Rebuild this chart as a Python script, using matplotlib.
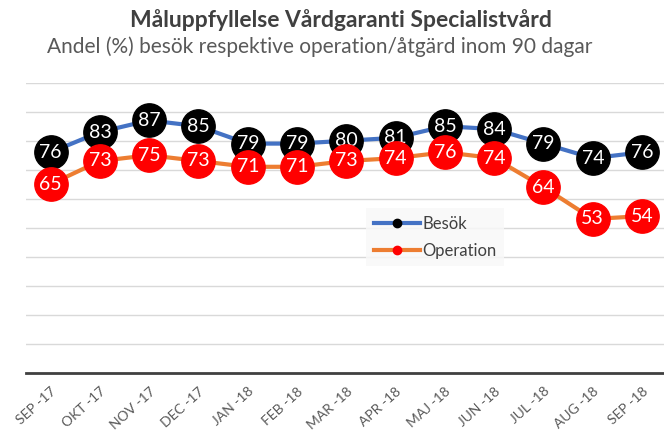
import matplotlib
matplotlib.use("Agg")
import matplotlib.pyplot as plt
from matplotlib.lines import Line2D

# ---- data ----
months = ["SEP -17", "OKT -17", "NOV -17", "DEC -17", "JAN -18", "FEB -18", "MAR -18",
          "APR -18", "MAJ -18", "JUN -18", "JUL -18", "AUG -18", "SEP -18"]
besok = [76, 83, 87, 85, 79, 79, 80, 81, 85, 84, 79, 74, 76]
operation = [65, 73, 75, 73, 71, 71, 73, 74, 76, 74, 64, 53, 54]

plt.rcParams["font.family"] = ["Lato", "DejaVu Sans"]

W, H = 664, 432
fig = plt.figure(figsize=(W / 100, H / 100), dpi=100)

# plot area in pixels: x 26..667, y 82.7 (=100) .. 372.7 (=0)
x0, x1, ytop, ybot = 26, 666.7, 82.7, 372.7
ax = fig.add_axes([x0 / W, (H - ybot) / H, (x1 - x0) / W, (ybot - ytop) / H])

x = list(range(len(months)))
ax.set_xlim(-0.5, len(months) - 0.5)
ax.set_ylim(0, 100)
ax.set_yticks(range(10, 101, 10))
ax.yaxis.grid(True, color="#d9d9d9", lw=1.0)
ax.set_axisbelow(True)
ax.tick_params(axis="y", left=False, labelleft=False)
ax.tick_params(axis="x", length=0, pad=9, labelsize=10, labelcolor="#595959")
ax.set_xticks(x)
ax.set_xticklabels(months, rotation=42, ha="right", rotation_mode="anchor")
for s in ["top", "right", "left"]:
    ax.spines[s].set_visible(False)
ax.spines["bottom"].set_color("#404040")
ax.spines["bottom"].set_linewidth(2.0)

ms = 24
ax.plot(x, besok, color="#4472C4", lw=3, marker="o", ms=ms, mfc="black", mec="black",
        zorder=2, label="Besök")
for xi, v in zip(x, besok):
    ax.text(xi, v, str(v), color="white", ha="center", va="center", fontsize=14, zorder=3)

ax.plot(x, operation, color="#ED7D31", lw=3, marker="o", ms=ms, mfc="#FF0000", mec="#FF0000",
        zorder=4, label="Operation")
for xi, v in zip(x, operation):
    ax.text(xi, v, str(v), color="white", ha="center", va="center", fontsize=14, zorder=5)

# legend with small markers
handles = [Line2D([], [], color="#4472C4", lw=3, marker="o", ms=6, mfc="black", mec="black"),
           Line2D([], [], color="#ED7D31", lw=3, marker="o", ms=6, mfc="#FF0000", mec="#FF0000")]
leg = ax.legend(handles, ["Besök", "Operation"], loc="upper left",
                bbox_to_anchor=(0.518, 0.595), frameon=True, fancybox=False,
                fontsize=12, handlelength=2.8, handletextpad=0.1, labelspacing=0.65,
                borderpad=0.45, labelcolor="#404040")
leg.get_frame().set_facecolor("#f8f8f8")
leg.get_frame().set_edgecolor("none")
leg.get_frame().set_alpha(0.85)
leg.set_zorder(6)

fig.text(341 / W, 1 - 20 / H, "Måluppfyllelse Vårdgaranti Specialistvård", ha="center", va="center",
         fontsize=16.5, fontweight="bold", color="#404040")
fig.text(320 / W, 1 - 47 / H, "Andel (%) besök respektive operation/åtgärd inom 90 dagar",
         ha="center", va="center", fontsize=15, color="#595959")

fig.savefig("out.png", dpi=100)
